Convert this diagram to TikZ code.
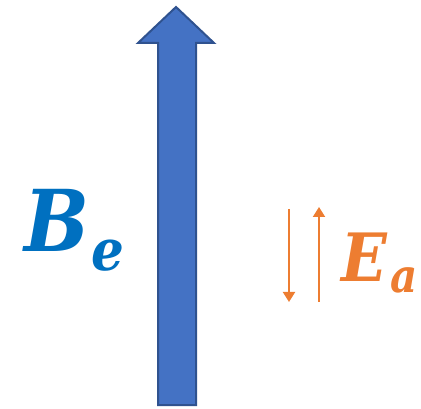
\documentclass[tikz,border=0pt]{standalone}
\usepackage{fontspec}
\newfontfamily\labelfont{DejaVu Serif}
\usetikzlibrary{arrows.meta}
\definecolor{fieldblue}{RGB}{68,114,196}
\definecolor{fieldedge}{RGB}{47,82,143}
\definecolor{labelblue}{RGB}{0,112,192}
\definecolor{emforange}{RGB}{237,125,49}
\tikzset{
  emfline/.style={color=emforange, line width=1.5pt, -{Triangle[width=9pt,length=7.5pt]}},
  symbol/.style={anchor=base west, inner sep=0pt, font=\labelfont\bfseries\itshape, xscale=0.9}
}
\begin{document}
\begin{tikzpicture}[x=0.75pt,y=0.75pt,yscale=-1,xscale=1]
\useasboundingbox (0,0) rectangle (421,409);

%Shape: Up Arrow [id:field]
\draw [color=fieldedge, fill=fieldblue, line width=1.5pt] (158,405) -- (158,43) -- (138,43) -- (176,7) -- (214,43) -- (196,43) -- (196,405) -- cycle ;

%Straight Lines [id:emfdown]
\coordinate (downstart) at (289,209);
\coordinate (downend) at (289,302);
\draw [emfline] (downstart) -- (downend);
%Straight Lines [id:emfup]
\coordinate (upstart) at (319,302);
\coordinate (upend) at (319,207);
\draw [emfline] (upstart) -- (upend);

% Text Node
\draw (24,252) node [symbol, text=labelblue] (Be) {\fontsize{64}{70}\selectfont B\kern2pt\raisebox{-14pt}{\fontsize{43}{47}\selectfont e}};
% Text Node
\draw (341,282) node [symbol, text=emforange] (Ea) {\fontsize{50}{55}\selectfont E\kern3pt\raisebox{-8pt}{\fontsize{35}{38}\selectfont a}};

\end{tikzpicture}
\end{document}
